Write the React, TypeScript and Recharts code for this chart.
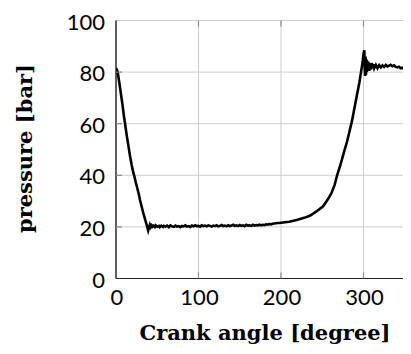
import React from 'react';
import { LineChart, Line, XAxis, YAxis, CartesianGrid } from 'recharts';

const angles: number[] = [
  0, 1, 2, 4, 6, 8, 10, 11, 13, 15, 17, 19, 21, 22, 24, 26, 28, 29, 31, 33, 35, 37, 38, 39, 40, 41, 42, 43,
  44, 45, 47, 48, 50, 52, 53, 55, 57, 58, 60, 62, 64, 66, 68, 70, 72, 74, 76, 78, 80, 82, 84, 86, 88, 90,
  92, 94, 96, 98, 100, 102, 104, 106, 108, 110, 112, 114, 116, 118, 120, 122, 124, 126, 128, 130, 132, 134,
  136, 138, 140, 142, 144, 146, 148, 150, 152, 154, 156, 158, 160, 162, 164, 166, 168, 170, 172, 174, 176,
  178, 180, 182, 184, 186, 188, 190, 192, 194, 196, 198, 200, 210, 219, 228, 235, 243, 251, 256, 261, 265,
  268, 272, 276, 280, 283, 286, 289, 292, 295, 297, 299, 300, 301, 301.5, 302, 302.5, 303, 303.5, 304, 304.5,
  305, 306, 307, 308, 309, 310, 311, 312, 313, 315, 317, 319, 321, 323, 325, 327, 329, 331, 333, 335, 337,
  339, 341, 343, 345, 347, 349, 351, 353, 355, 357, 359, 360,
];

const pressures: number[] = [
  81.5, 81, 80, 76, 71.5, 67, 62, 60, 55.5, 51.5, 47.5, 44, 41, 40, 37.2, 34.8, 32.2, 30.5, 28, 25.5, 23.2, 21, 19.8, 18.6, 19.8, 20.8, 19.9, 20.6,
  20.1, 20.5, 19.9, 20.6, 20.1, 20.4, 19.9, 20.5, 20.0, 20.4, 20.1, 20.5, 19.9, 20.6, 20.2, 20.0, 20.5, 20.1, 20.3, 19.9, 20.4, 20.2, 20.6, 20.1, 20.3, 20.0,
  20.5, 20.2, 20.6, 20.3, 20.4, 20.1, 20.6, 20.3, 20.5, 20.2, 20.6, 20.4, 20.1, 20.5, 20.3, 20.6, 20.2, 20.4, 20.7, 20.3, 20.5, 20.2,
  20.6, 20.3, 20.5, 20.8, 20.4, 20.6, 20.3, 20.7, 20.4, 20.6, 20.3, 20.8, 20.5, 20.6, 20.4, 20.8, 20.5, 20.7, 20.6, 20.9, 20.6,
  20.8, 20.7, 21.0, 20.9, 21.1, 21.0, 21.2, 21.3, 21.4, 21.5, 21.5, 21.6, 22.0, 22.7, 23.5, 24.3, 26, 28, 30.3, 33, 36.3,
  40, 44, 48.6, 53, 57, 61, 66, 71, 76, 80, 84, 87, 88.5, 82, 78.5, 86, 79, 85, 80, 84.5,
  80.5, 84, 80.5, 83.5, 81, 83.5, 81.5, 83, 81.5, 82.8, 81.5, 82.7, 81.8, 82.6, 82, 82.8, 82.2, 82.5, 82.8, 82.3, 82.6,
  82, 81.8, 82.1, 81.5, 81.7, 81.2, 81.6, 81, 80.8, 80.9, 80.4, 80.6,
];

const xTicks: number[] = [0, 100, 200, 300];
const yTicks: number[] = [0, 20, 40, 60, 80, 100];

const data = angles.map((a, i) => ({ angle: a, pressure: pressures[i] }));

const tickFont = 'Lato, "DejaVu Sans", sans-serif';
const labelFont = '"DejaVu Serif", "Liberation Serif", serif';

const PLOT_TOP = 12.5;
const PLOT_BOTTOM = 270.5;
const PLOT_LEFT = 108;
const TICK_COLOR = '#8a8a8a';

const XTick = (props: any) => {
  const { x, payload } = props;
  return (
    <g>
      {payload.value !== 0 && (
        <>
          <line x1={x} x2={x} y1={PLOT_BOTTOM} y2={PLOT_BOTTOM - 6} stroke={TICK_COLOR} strokeWidth={1.2} />
          <line x1={x} x2={x} y1={PLOT_TOP} y2={PLOT_TOP + 6} stroke={TICK_COLOR} strokeWidth={1.2} />
        </>
      )}
      <text x={x + 1} y={297} textAnchor="middle" fontFamily={tickFont} fontSize={22} fill="#000">
        {payload.value}
      </text>
    </g>
  );
};

const YTick = (props: any) => {
  const { y, payload } = props;
  return (
    <g>
      {payload.value !== 0 && payload.value !== 100 && (
        <line x1={PLOT_LEFT} x2={PLOT_LEFT + 6} y1={y} y2={y} stroke={TICK_COLOR} strokeWidth={1.2} />
      )}
      <text x={97} y={y + 9} textAnchor="end" fontFamily={tickFont} fontSize={22} fill="#000">
        {payload.value}
      </text>
    </g>
  );
};

const XLabel = () => (
  <text x={257} y={332} textAnchor="middle" fontFamily={labelFont} fontWeight="bold" fontSize={21} fill="#000">
    Crank angle [degree]
  </text>
);

const YLabel = () => (
  <text transform="translate(23.7 140.5) rotate(-90)" x={0} y={0} textAnchor="middle" fontFamily={labelFont} fontWeight="bold" fontSize={21} fill="#000">
    pressure [bar]
  </text>
);

export default function App() {
  return (
    <div style={{ width: 403, height: 338, overflow: 'hidden' }}>
      <LineChart width={430} height={346} data={data} margin={{ top: PLOT_TOP, right: 25, bottom: 0, left: 0 }}>
        <CartesianGrid stroke="#cdcdcd" strokeWidth={1} vertical horizontal />
        <XAxis
          xAxisId="top"
          orientation="top"
          type="number"
          dataKey="angle"
          domain={[0, 360]}
          height={0}
          tick={false}
          tickLine={false}
          axisLine={{ stroke: '#000', strokeWidth: 1.2 }}
        />
        <XAxis
          type="number"
          dataKey="angle"
          domain={[0, 360]}
          ticks={xTicks}
          allowDataOverflow
          height={75.5}
          tick={<XTick />}
          tickLine={false}
          axisLine={{ stroke: '#222', strokeWidth: 1.2 }}
          label={<XLabel />}
        />
        <YAxis
          type="number"
          domain={[0, 100]}
          ticks={yTicks}
          width={PLOT_LEFT}
          tick={<YTick />}
          tickLine={false}
          axisLine={{ stroke: '#000', strokeWidth: 1.2 }}
          label={<YLabel />}
        />
        <Line
          type="linear"
          dataKey="pressure"
          stroke="#000"
          strokeWidth={2.6}
          dot={false}
          isAnimationActive={false}
        />
      </LineChart>
    </div>
  );
}
